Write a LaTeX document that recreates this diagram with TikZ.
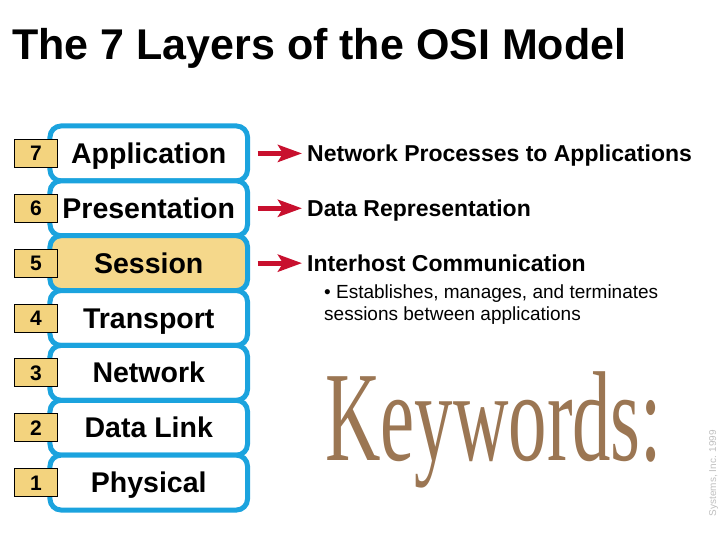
\documentclass[tikz,border=0pt]{standalone}
\usepackage{fontspec}
\setmainfont{Liberation Sans}
\newfontfamily\serifk{Liberation Serif}
\usetikzlibrary{arrows.meta}
\definecolor{osiblue}{HTML}{1BA3DE}
\definecolor{numfill}{HTML}{F3D37E}
\definecolor{sessfill}{HTML}{F5D88B}
\definecolor{arrowred}{HTML}{C8102E}
\definecolor{kwbrown}{HTML}{9B7653}
\begin{document}
\begin{tikzpicture}[x=1bp,y=-1bp,
  layerbox/.style={draw=osiblue, line width=5bp, rounded corners=11bp, fill=white,
    minimum width=197.5bp, minimum height=54.86bp, inner sep=0pt,
    font=\fontsize{28.5bp}{30bp}\selectfont\bfseries, text height=20bp, text depth=0pt},
  numbox/.style={draw=black, line width=1bp, fill=numfill, minimum width=43bp,
    minimum height=28bp, inner sep=0pt,
    font=\fontsize{21bp}{22bp}\selectfont\bfseries, text height=15bp, text depth=0pt},
  desc/.style={anchor=base west, inner sep=0pt, font=\fontsize{23bp}{25bp}\selectfont\bfseries},
  subdesc/.style={anchor=base west, inner sep=0pt, font=\fontsize{19bp}{21bp}\selectfont},
  redarrow/.style={draw=arrowred, line width=5bp,
    -{Stealth[length=24bp,width=17bp,inset=5bp]}, shorten <=7.5bp, shorten >=5bp}
]
\useasboundingbox (0,0) rectangle (720,540);

% title
\node[anchor=base west, inner sep=0pt, font=\fontsize{43bp}{45bp}\selectfont\bfseries]
  (title) at (12,60) {The 7 Layers of the OSI Model};

% layers
\foreach \n/\name/\fc [count=\i from 0] in
  {7/Application/white, 6/Presentation/white, 5/Session/sessfill, 4/Transport/white,
   3/Network/white, 2/Data Link/white, 1/Physical/white} {
  \node[layerbox, fill=\fc] (L\n) at (148.75, 153.43+\i*54.86) {\name};
  \node[numbox] (N\n) at (36, 153.43+\i*54.86) {\n};
}

% descriptions
\node[desc] (D7) at (307,162) {Network Processes to Applications};
\node[desc] (D6) at (307,217) {Data Representation};
\node[desc] (D5) at (307,272) {Interhost Communication};
\node[subdesc] (S1) at (324,298) {\textbullet\ Establishes, manages, and terminates};
\node[subdesc] (S2) at (324,320) {sessions between applications};

\foreach \n in {7,6,5} {
  \draw[redarrow] (L\n.east) -- (L\n.east -| D\n.west);
}

% keywords
\node[anchor=base west, inner sep=0pt, text=kwbrown] (kw) at (325,460)
  {\scalebox{0.6}[1]{\fontsize{128bp}{130bp}\selectfont\serifk Keywords:}};

% faint copyright
\node[rotate=90, anchor=base east, inner sep=0pt, text=black!25,
  font=\fontsize{10bp}{11bp}\selectfont] (copy) at (716,430) {Systems, Inc. 1999};
\end{tikzpicture}
\end{document}
